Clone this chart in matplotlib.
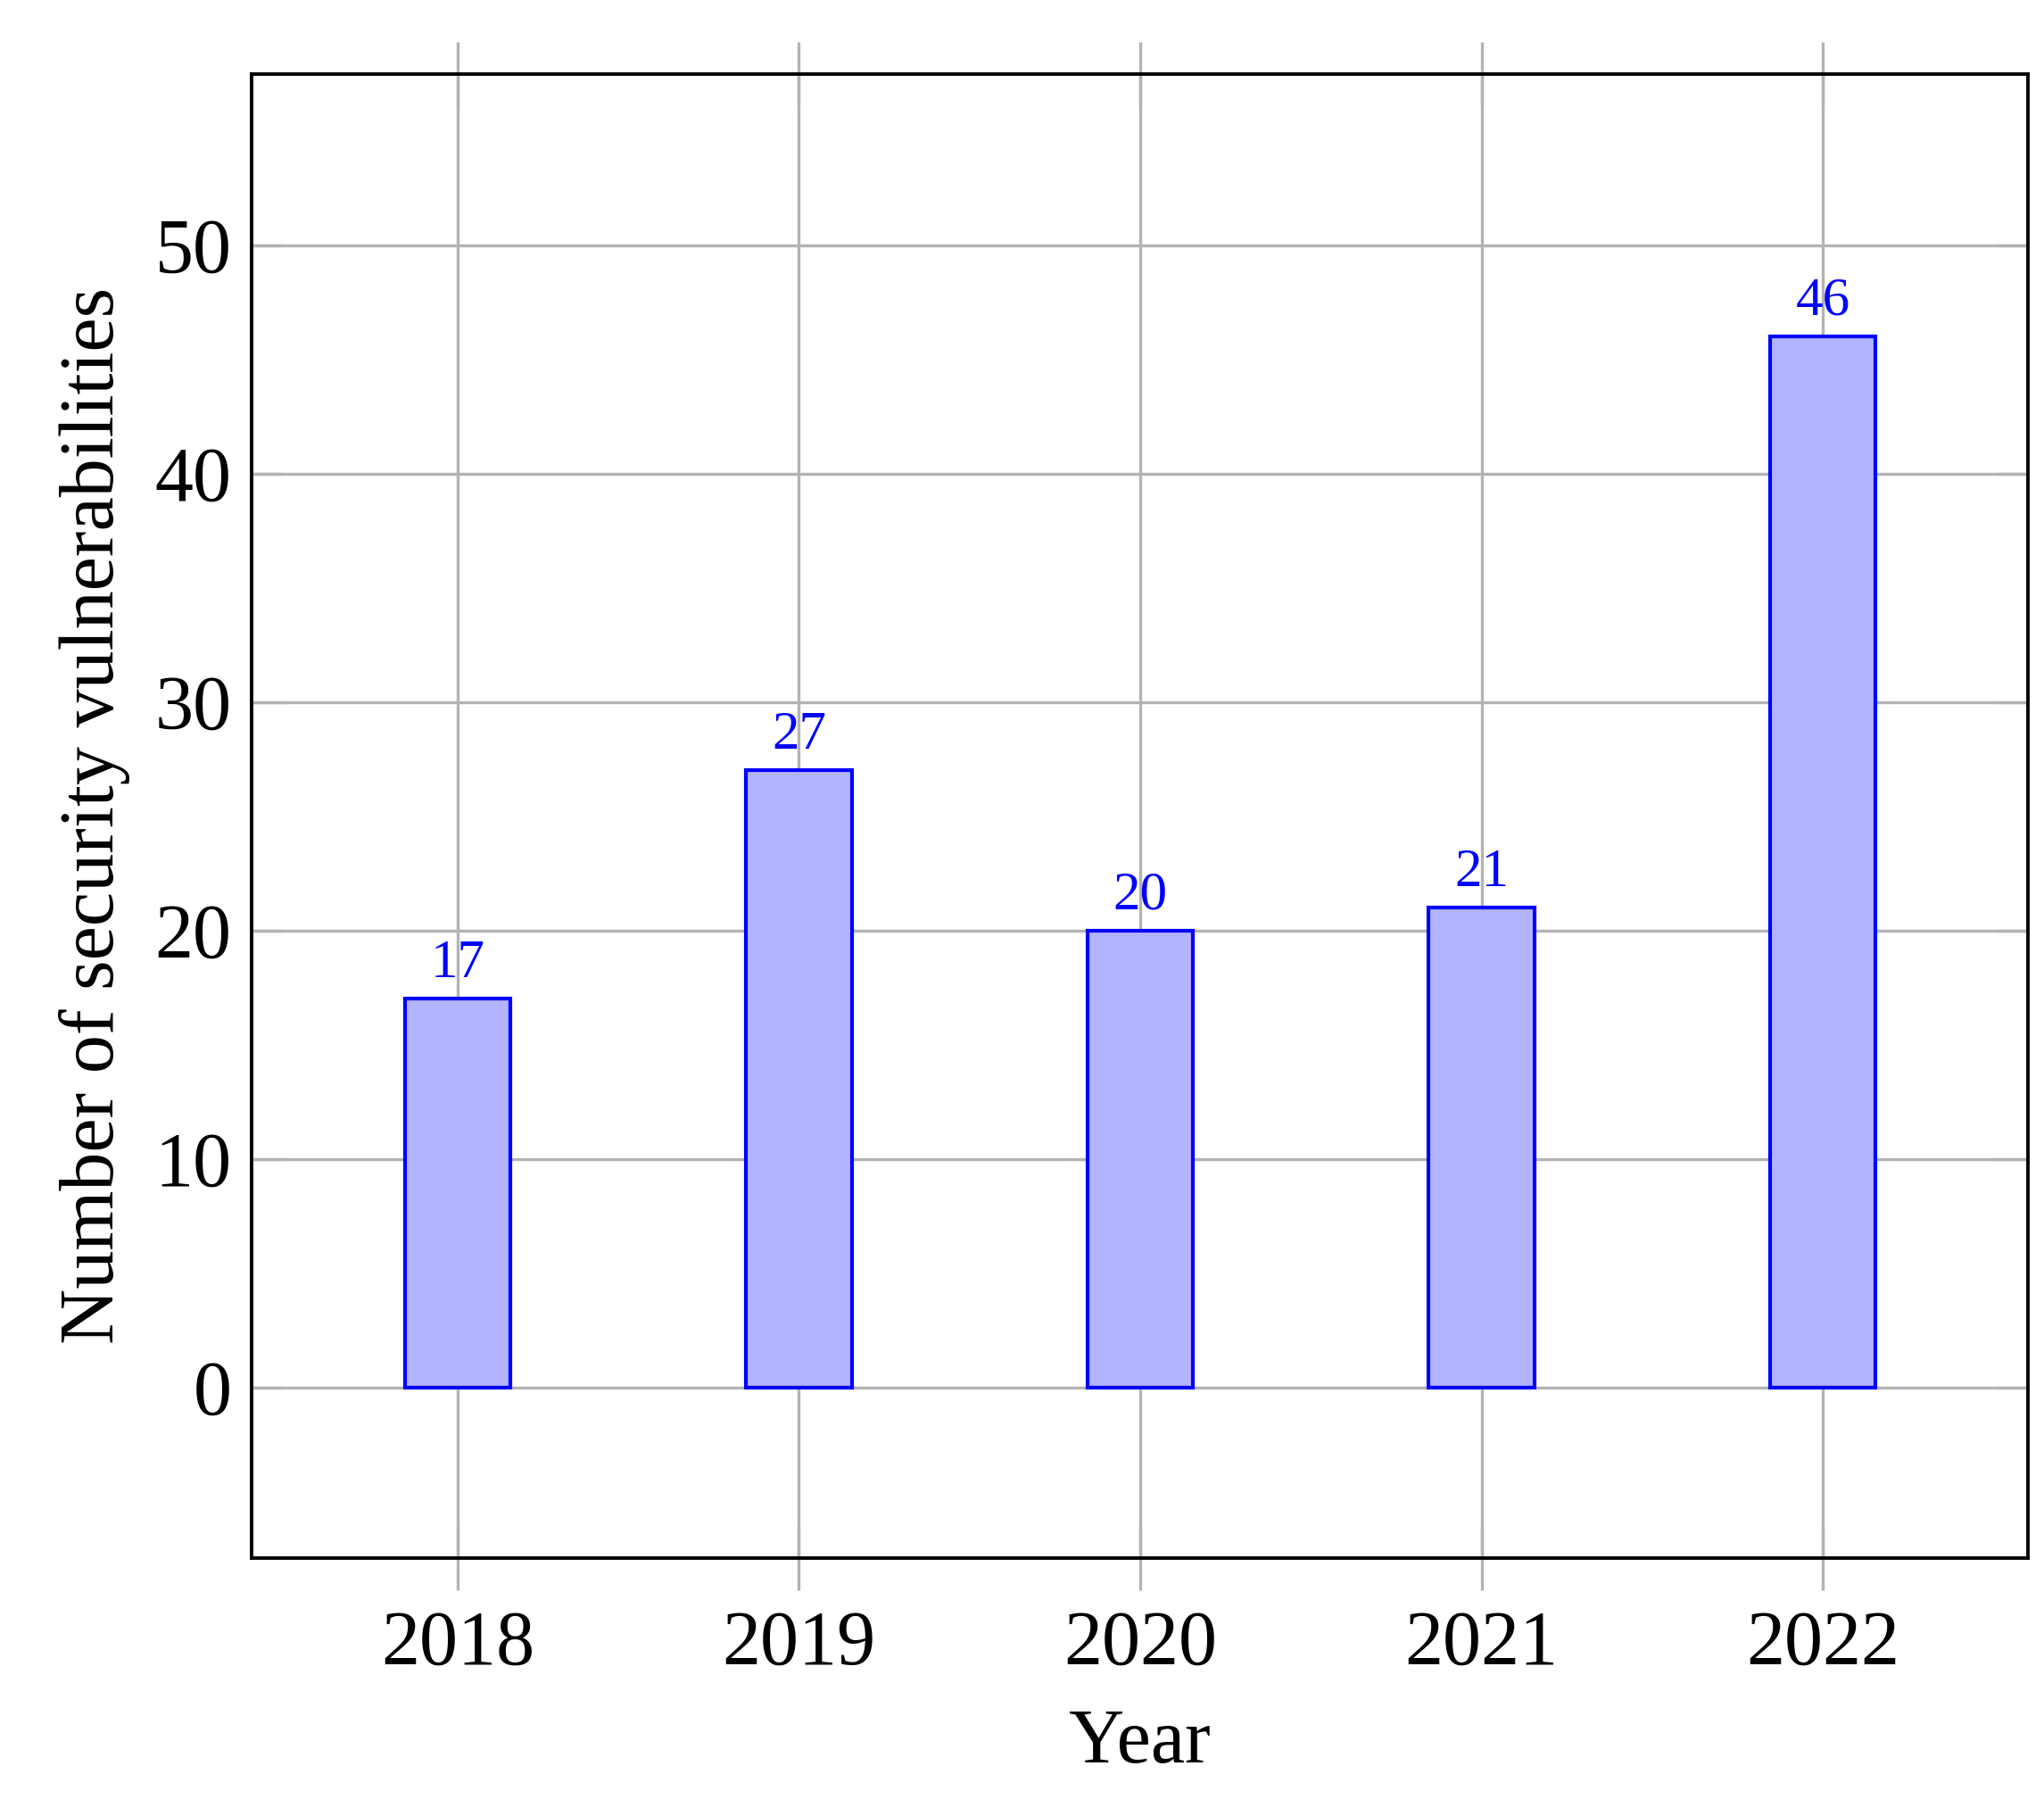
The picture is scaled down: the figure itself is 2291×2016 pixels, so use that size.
import matplotlib.pyplot as plt

years = [2018, 2019, 2020, 2021, 2022]
counts = [17, 27, 20, 21, 46]
y_ticks = [0, 10, 20, 30, 40, 50]


def main():
    plt.rcParams["font.family"] = ["Liberation Serif", "DejaVu Serif"]
    fig = plt.figure(figsize=(22.91, 20.16), dpi=100)
    ax = fig.add_axes([0.123, 0.134, 0.869, 0.825])

    ax.bar(years, counts, width=0.31, color="#b3b3ff", edgecolor="blue",
           linewidth=3, zorder=3)
    for x, v in zip(years, counts):
        ax.annotate(str(v), (x, v), textcoords="offset points", xytext=(0, 8),
                    ha="center", va="bottom", fontsize=44, color="blue", zorder=4)

    ax.set_xlim(2018 - 0.604, 2022 + 0.6)
    ax.set_ylim(-7.47, 57.5)
    ax.set_xticks(years)
    ax.set_yticks(y_ticks)
    ax.grid(True, color="#b3b3b3", linewidth=2.4, zorder=0)
    ax.tick_params(axis="x", direction="inout", length=52, width=2.4,
                   color="#b3b3b3", labelsize=62, top=True, pad=16)
    ax.tick_params(axis="y", direction="in", length=26, width=2.4,
                   color="#b3b3b3", labelsize=62, right=True, pad=16)
    for s in ax.spines.values():
        s.set_linewidth(2.8)
        s.set_zorder(5)
    ax.set_xlabel("Year", fontsize=62, labelpad=22)
    ax.set_ylabel("Number of security vulnerabilities", fontsize=62, labelpad=20)

    fig.savefig("out.png", dpi=100)
    plt.close(fig)


if __name__ == "__main__":
    main()
